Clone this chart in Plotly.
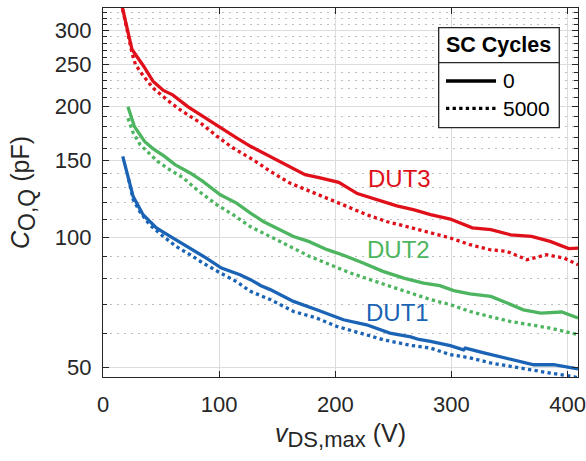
import math
import plotly.graph_objects as go

# Output charge capacitance vs. maximum drain-source voltage, before/after SC cycling
dut3_v0 = [16, 25, 35, 43, 52, 60, 73, 86, 101, 115, 127, 135, 144, 158, 174, 187, 203, 219, 236,
           253, 268, 282, 299, 318, 334, 351, 369, 385, 401, 409]
dut3_c0 = [345, 271, 248, 229, 218, 213, 200, 190, 178.5, 169.5, 162, 158, 153.5, 147, 139.3, 137,
           133.7, 126, 122, 118, 115.5, 112.6, 110, 105, 104, 101.2, 100.3, 97.7, 94, 94.3]
dut3_v5k = [17, 25, 28, 35, 43, 55, 66, 84, 98, 112, 129, 144, 161, 178, 196, 210, 227, 244, 264,
            282, 299, 316, 333, 348, 365, 382, 397, 409]
dut3_c5k = [335, 266, 250, 235, 221, 207.5, 197, 183.4, 171, 160.5, 151, 141.8, 133.2, 127.4, 122,
            117.7, 112.6, 108.6, 105.3, 102.1, 99.5, 96, 93.5, 92.6, 88.6, 91, 89.4, 86.3]

dut2_v0 = [21.5, 27, 36, 43, 53, 62, 75, 86, 101, 115, 127, 138, 164, 177, 193, 206, 224, 241, 259,
           265, 276, 290, 302, 316, 334, 348, 362, 377, 395, 409]
dut2_c0 = [200, 180, 166, 160, 153.5, 147, 140.6, 134.4, 125.2, 119.8, 113.6, 108.6, 100.3, 97.7,
           93.5, 91, 87.1, 83.3, 80.4, 79.7, 78.3, 77.2, 75.2, 73.9, 72.9, 70.4, 67.9, 66.7, 67.1, 65]
dut2_v5k = [21.5, 26, 32, 39, 47, 57.5, 69, 81, 98, 112, 126.5, 138, 144, 161, 178, 196, 213, 230,
            247, 266, 282, 299, 316, 333, 351, 368, 385, 409]
dut2_c5k = [188, 174, 163.4, 156.3, 149.5, 143, 137, 128.5, 118.7, 112.6, 105.8, 102.1, 100.3, 95.1,
            90.2, 86.3, 82.6, 79.7, 76.9, 74, 71.7, 69.8, 67.3, 65.5, 63.8, 62.7, 61.6, 59.5]

dut1_v0 = [17, 21.5, 26, 34.5, 46, 60, 75, 89, 102, 118, 127, 136, 144, 164, 184, 207, 227, 247,
           265, 272, 282, 299, 310.5, 312, 328, 351, 371, 388, 409]
dut1_c0 = [153.5, 138, 124, 112.6, 105, 99.5, 94.3, 89.4, 84.8, 81.8, 79.7, 77.2, 75.6, 71, 67.9,
           64.4, 62.7, 60, 58.8, 58, 57.4, 56.1, 54.9, 55.4, 54, 52.1, 50.7, 50.7, 49.6]
dut1_v5k = [22, 26, 31.6, 40, 52, 63, 75, 86, 101, 115, 126.5, 138, 144, 164, 184, 201, 221.5,
            241.5, 265, 282, 299, 316, 333.5, 351, 368, 385, 405, 409]
dut1_c5k = [136, 122, 114.6, 106.8, 100.3, 95.1, 91, 87.1, 82.6, 78.9, 75, 72.9, 71.7, 67.3, 65,
            62.2, 60, 57.9, 56.2, 55.4, 53.5, 52.6, 51.2, 50.2, 49.4, 48.5, 47.6, 47.3]

y_ticks = [50, 100, 150, 200, 250, 300]
y_minor = [v for v in range(50, 341, 10) if v not in y_ticks]
x_ticks = [0, 100, 200, 300, 400]

RED = "#E0101A"
GREEN = "#4DB560"
BLUE = "#1A63B5"
INK = "#262626"
FONT = "Liberation Sans, Arial, Helvetica, sans-serif"
LW = 3.3

series = [
    ("DUT3", dut3_v0, dut3_c0, dut3_v5k, dut3_c5k, RED, 255.5, 136.5),
    ("DUT2", dut2_v0, dut2_c0, dut2_v5k, dut2_c5k, GREEN, 254.6, 93.5),
    ("DUT1", dut1_v0, dut1_c0, dut1_v5k, dut1_c5k, BLUE, 253.3, 67.0),
]

fig = go.Figure()
for name, v0, c0, v5, c5, col, lx, ly in series:
    fig.add_trace(go.Scatter(x=v5, y=c5, mode="lines", showlegend=False,
                             line=dict(color=col, width=LW, dash="dot")))
    fig.add_trace(go.Scatter(x=v0, y=c0, mode="lines", showlegend=False,
                             line=dict(color=col, width=LW)))
    fig.add_annotation(x=lx, y=math.log10(ly), xref="x", yref="y", text=name,
                       showarrow=False, xanchor="center", yanchor="middle",
                       font=dict(family=FONT, size=24, color=col))

# Legend drawn as a boxed table: header, divider, two line samples
lx0, lx1, ly0, ly1 = 0.7067, 0.9606, 0.6756, 0.9466
fig.add_shape(type="rect", xref="paper", yref="paper", x0=lx0, x1=lx1, y0=ly0, y1=ly1,
              line=dict(color=INK, width=1.3), fillcolor="white", layer="above")
fig.add_shape(type="line", xref="paper", yref="paper", x0=lx0, x1=lx1, y0=0.8518, y1=0.8518,
              line=dict(color=INK, width=1.3), layer="above")
fig.add_annotation(x=0.8336, y=0.8995, xref="paper", yref="paper", text="<b>SC Cycles</b>",
                   showarrow=False, xanchor="center", yanchor="middle",
                   font=dict(family=FONT, size=21.5, color="black"))
for yy, dash, lab in [(0.8022, "solid", "0"), (0.7282, "dot", "5000")]:
    fig.add_shape(type="line", xref="paper", yref="paper", x0=0.7221, x1=0.8274, y0=yy, y1=yy,
                  line=dict(color="black", width=LW, dash=dash), layer="above")
    fig.add_annotation(x=0.8385, y=yy, xref="paper", yref="paper", text=lab, showarrow=False,
                       xanchor="left", yanchor="middle",
                       font=dict(family=FONT, size=21, color="black"))

axis_common = dict(
    showline=True, linecolor=INK, linewidth=1.3, mirror="ticks",
    ticks="inside", ticklen=6, tickwidth=1.2, tickcolor=INK,
    tickfont=dict(family=FONT, size=22, color=INK),
    showgrid=True, gridcolor="#DCDCDC", gridwidth=1, zeroline=False,
    automargin=False,
)

SUB = '<sub><span style="font-size:{}px">{}</span></sub>'

fig.update_xaxes(
    **axis_common, range=[0, 409], tickmode="array", tickvals=x_ticks,
    ticklabelstandoff=7,
    title=dict(text="<i>v</i>" + SUB.format(22, "DS,max") + " (V)", standoff=8,
               font=dict(family=FONT, size=25, color=INK)),
)
fig.update_yaxes(
    **axis_common, type="log", range=[math.log10(47.5), math.log10(338)],
    tickmode="array", tickvals=y_ticks, ticktext=[str(v) for v in y_ticks],
    ticklabelstandoff=6,
    minor=dict(tickmode="array", tickvals=y_minor, ticks="inside", ticklen=4,
               tickcolor=INK, showgrid=True, gridcolor="#BDBDBD", griddash="2px,5px",
               gridwidth=1),
    title=dict(text="<i>C</i>" + SUB.format(23, "O,Q") + " (pF)", standoff=17,
               font=dict(family=FONT, size=25, color=INK)),
)

fig.update_layout(
    width=586, height=461,
    margin=dict(l=103, r=8, t=8, b=84),
    plot_bgcolor="white", paper_bgcolor="white",
    showlegend=False,
)

fig.write_html("out.html")
